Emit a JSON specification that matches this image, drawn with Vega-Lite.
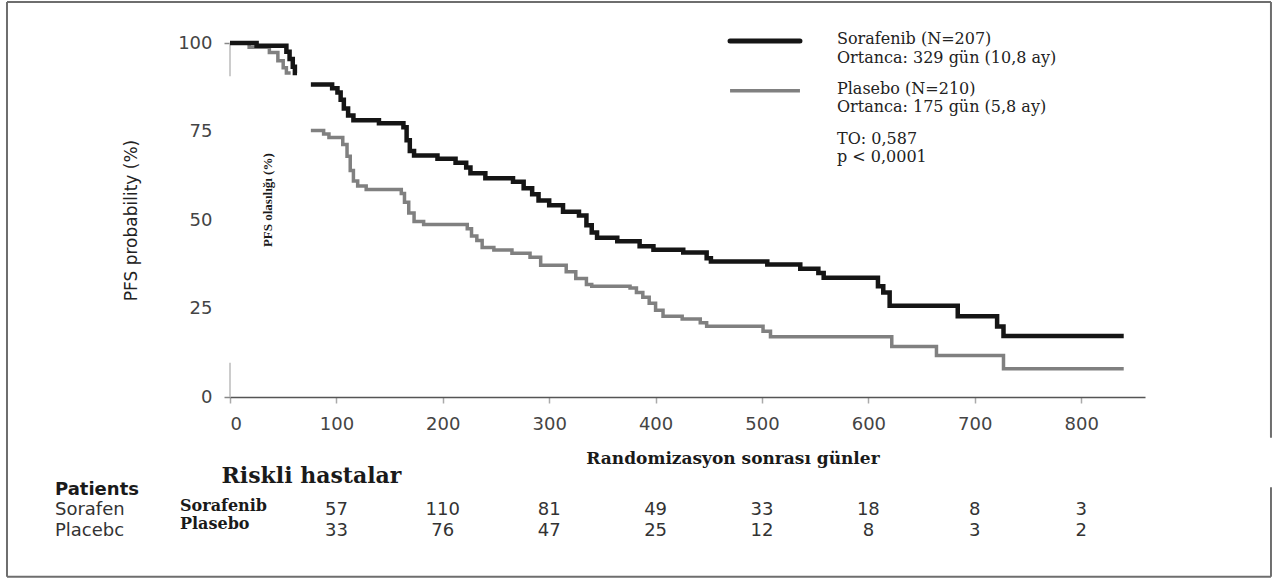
{
"$schema": "https://vega.github.io/schema/vega-lite/v6.json",
"width": 915,
"height": 354,
"autosize": {"type": "none"},
"padding": {"left": 230, "top": 43, "right": 134, "bottom": 184},
"background": "white",
"config": {"view": {"stroke": null}},
"datasets": {
"curves": [
{"arm":"Sorafenib","seg":"a","day":0,"pfs":100},
{"arm":"Sorafenib","seg":"a","day":25,"pfs":99.2},
{"arm":"Sorafenib","seg":"a","day":53,"pfs":97.5},
{"arm":"Sorafenib","seg":"a","day":56,"pfs":95.5},
{"arm":"Sorafenib","seg":"a","day":59,"pfs":93.3},
{"arm":"Sorafenib","seg":"a","day":61,"pfs":91.5},
{"arm":"Sorafenib","seg":"a","day":63,"pfs":91.5},
{"arm":"Sorafenib","seg":"b","day":76,"pfs":88.3},
{"arm":"Sorafenib","seg":"b","day":96,"pfs":87.2},
{"arm":"Sorafenib","seg":"b","day":101,"pfs":86.0},
{"arm":"Sorafenib","seg":"b","day":104,"pfs":84.0},
{"arm":"Sorafenib","seg":"b","day":107,"pfs":81.5},
{"arm":"Sorafenib","seg":"b","day":111,"pfs":79.5},
{"arm":"Sorafenib","seg":"b","day":116,"pfs":78.2},
{"arm":"Sorafenib","seg":"b","day":140,"pfs":77.3},
{"arm":"Sorafenib","seg":"b","day":163,"pfs":76.2},
{"arm":"Sorafenib","seg":"b","day":166,"pfs":72.5},
{"arm":"Sorafenib","seg":"b","day":169,"pfs":69.5},
{"arm":"Sorafenib","seg":"b","day":173,"pfs":68.2},
{"arm":"Sorafenib","seg":"b","day":195,"pfs":67.3},
{"arm":"Sorafenib","seg":"b","day":212,"pfs":66.2},
{"arm":"Sorafenib","seg":"b","day":222,"pfs":64.8},
{"arm":"Sorafenib","seg":"b","day":226,"pfs":63.2},
{"arm":"Sorafenib","seg":"b","day":240,"pfs":61.8},
{"arm":"Sorafenib","seg":"b","day":266,"pfs":60.8},
{"arm":"Sorafenib","seg":"b","day":276,"pfs":59.0},
{"arm":"Sorafenib","seg":"b","day":284,"pfs":57.3},
{"arm":"Sorafenib","seg":"b","day":290,"pfs":55.5},
{"arm":"Sorafenib","seg":"b","day":300,"pfs":54.2},
{"arm":"Sorafenib","seg":"b","day":313,"pfs":52.3},
{"arm":"Sorafenib","seg":"b","day":328,"pfs":51.3},
{"arm":"Sorafenib","seg":"b","day":335,"pfs":48.5},
{"arm":"Sorafenib","seg":"b","day":340,"pfs":46.5},
{"arm":"Sorafenib","seg":"b","day":345,"pfs":45.0},
{"arm":"Sorafenib","seg":"b","day":364,"pfs":44.0},
{"arm":"Sorafenib","seg":"b","day":385,"pfs":42.6},
{"arm":"Sorafenib","seg":"b","day":398,"pfs":41.6},
{"arm":"Sorafenib","seg":"b","day":426,"pfs":40.8},
{"arm":"Sorafenib","seg":"b","day":448,"pfs":39.2},
{"arm":"Sorafenib","seg":"b","day":452,"pfs":38.3},
{"arm":"Sorafenib","seg":"b","day":505,"pfs":37.4},
{"arm":"Sorafenib","seg":"b","day":536,"pfs":36.2},
{"arm":"Sorafenib","seg":"b","day":553,"pfs":35.0},
{"arm":"Sorafenib","seg":"b","day":558,"pfs":33.7},
{"arm":"Sorafenib","seg":"b","day":609,"pfs":31.3},
{"arm":"Sorafenib","seg":"b","day":614,"pfs":29.5},
{"arm":"Sorafenib","seg":"b","day":620,"pfs":25.8},
{"arm":"Sorafenib","seg":"b","day":684,"pfs":22.8},
{"arm":"Sorafenib","seg":"b","day":721,"pfs":19.9},
{"arm":"Sorafenib","seg":"b","day":727,"pfs":17.2},
{"arm":"Sorafenib","seg":"b","day":840,"pfs":17.2},
{"arm":"Placebo","seg":"a","day":0,"pfs":100},
{"arm":"Placebo","seg":"a","day":18,"pfs":98.8},
{"arm":"Placebo","seg":"a","day":37,"pfs":97.3},
{"arm":"Placebo","seg":"a","day":45,"pfs":95.0},
{"arm":"Placebo","seg":"a","day":50,"pfs":93.0},
{"arm":"Placebo","seg":"a","day":53,"pfs":91.5},
{"arm":"Placebo","seg":"a","day":57,"pfs":91.5},
{"arm":"Placebo","seg":"b","day":76,"pfs":75.3},
{"arm":"Placebo","seg":"b","day":88,"pfs":74.3},
{"arm":"Placebo","seg":"b","day":93,"pfs":73.3},
{"arm":"Placebo","seg":"b","day":106,"pfs":71.3},
{"arm":"Placebo","seg":"b","day":110,"pfs":68.0},
{"arm":"Placebo","seg":"b","day":113,"pfs":64.0},
{"arm":"Placebo","seg":"b","day":116,"pfs":61.0},
{"arm":"Placebo","seg":"b","day":120,"pfs":59.6},
{"arm":"Placebo","seg":"b","day":128,"pfs":58.6},
{"arm":"Placebo","seg":"b","day":161,"pfs":57.5},
{"arm":"Placebo","seg":"b","day":164,"pfs":55.0},
{"arm":"Placebo","seg":"b","day":168,"pfs":52.0},
{"arm":"Placebo","seg":"b","day":173,"pfs":49.6},
{"arm":"Placebo","seg":"b","day":182,"pfs":48.7},
{"arm":"Placebo","seg":"b","day":223,"pfs":47.5},
{"arm":"Placebo","seg":"b","day":227,"pfs":45.5},
{"arm":"Placebo","seg":"b","day":232,"pfs":44.2},
{"arm":"Placebo","seg":"b","day":237,"pfs":42.2},
{"arm":"Placebo","seg":"b","day":248,"pfs":41.5},
{"arm":"Placebo","seg":"b","day":265,"pfs":40.6},
{"arm":"Placebo","seg":"b","day":282,"pfs":39.5},
{"arm":"Placebo","seg":"b","day":292,"pfs":37.2},
{"arm":"Placebo","seg":"b","day":316,"pfs":35.4},
{"arm":"Placebo","seg":"b","day":325,"pfs":33.5},
{"arm":"Placebo","seg":"b","day":335,"pfs":31.8},
{"arm":"Placebo","seg":"b","day":340,"pfs":31.3},
{"arm":"Placebo","seg":"b","day":376,"pfs":30.8},
{"arm":"Placebo","seg":"b","day":382,"pfs":29.5},
{"arm":"Placebo","seg":"b","day":388,"pfs":28.2},
{"arm":"Placebo","seg":"b","day":394,"pfs":26.5},
{"arm":"Placebo","seg":"b","day":400,"pfs":24.5},
{"arm":"Placebo","seg":"b","day":407,"pfs":22.8},
{"arm":"Placebo","seg":"b","day":425,"pfs":22.0},
{"arm":"Placebo","seg":"b","day":442,"pfs":21.0},
{"arm":"Placebo","seg":"b","day":448,"pfs":20.0},
{"arm":"Placebo","seg":"b","day":501,"pfs":18.6},
{"arm":"Placebo","seg":"b","day":508,"pfs":17.0},
{"arm":"Placebo","seg":"b","day":622,"pfs":14.3},
{"arm":"Placebo","seg":"b","day":664,"pfs":11.7},
{"arm":"Placebo","seg":"b","day":727,"pfs":8.0},
{"arm":"Placebo","seg":"b","day":840,"pfs":8.0}
],
"risk": [
{"arm":"Sorafenib","day":100,"n":57},
{"arm":"Sorafenib","day":200,"n":110},
{"arm":"Sorafenib","day":300,"n":81},
{"arm":"Sorafenib","day":400,"n":49},
{"arm":"Sorafenib","day":500,"n":33},
{"arm":"Sorafenib","day":600,"n":18},
{"arm":"Sorafenib","day":700,"n":8},
{"arm":"Sorafenib","day":800,"n":3},
{"arm":"Placebo","day":100,"n":33},
{"arm":"Placebo","day":200,"n":76},
{"arm":"Placebo","day":300,"n":47},
{"arm":"Placebo","day":400,"n":25},
{"arm":"Placebo","day":500,"n":12},
{"arm":"Placebo","day":600,"n":8},
{"arm":"Placebo","day":700,"n":3},
{"arm":"Placebo","day":800,"n":2}
]
},
"layer": [
{"data": {"values": [{}]}, "mark": {"type": "rule", "color": "#6e6e6e", "strokeWidth": 2}, "encoding": {"x": {"datum": -209.6}, "x2": {"datum": 978.4}, "y": {"datum": 111.6}}},
{"data": {"values": [{}]}, "mark": {"type": "rule", "color": "#6e6e6e", "strokeWidth": 2}, "encoding": {"x": {"datum": -209.6}, "x2": {"datum": 978.4}, "y": {"datum": -50.8}}},
{"data": {"values": [{}]}, "mark": {"type": "rule", "color": "#6e6e6e", "strokeWidth": 2}, "encoding": {"x": {"datum": -209.6}, "y": {"datum": 111.6}, "y2": {"datum": -50.8}}},
{"data": {"values": [{}]}, "mark": {"type": "rule", "color": "#6e6e6e", "strokeWidth": 2}, "encoding": {"x": {"datum": 978.4}, "y": {"datum": 111.6}, "y2": {"datum": -11.5}}},
{"data": {"values": [{}]}, "mark": {"type": "rule", "color": "#6e6e6e", "strokeWidth": 2}, "encoding": {"x": {"datum": 978.4}, "y": {"datum": -25.5}, "y2": {"datum": -50.8}}},
{"data": {"values": [{}]}, "mark": {"type": "rule", "color": "#bbbbbb", "strokeWidth": 1.5}, "encoding": {"x": {"datum": 0}, "y": {"datum": 90.6}, "y2": {"datum": 100}}},
{"data": {"values": [{}]}, "mark": {"type": "rule", "color": "#bbbbbb", "strokeWidth": 1.5}, "encoding": {"x": {"datum": 0}, "y": {"datum": 0}, "y2": {"datum": 9.7}}},
{
"data": {"name": "curves"},
"transform": [{"filter": "datum.arm === 'Placebo'"}],
"mark": {"type": "line", "interpolate": "step-after", "color": "#808080", "strokeWidth": 3.5},
"encoding": {
"x": {"field": "day", "type": "quantitative", "scale": {"domain": [0, 860], "nice": false},
"axis": {"values": [0,100,200,300,400,500,600,700,800], "title": null, "grid": false, "domainColor": "#555555", "domainWidth": 1.5, "tickColor": "#aaaaaa", "tickWidth": 1.5, "tickSize": 6, "labelPadding": 12, "labelFont": "DejaVu Sans", "labelFontSize": 18, "labelColor": "#444444"}},
"y": {"field": "pfs", "type": "quantitative", "scale": {"domain": [0, 100], "nice": false},
"axis": {"values": [0,25,50,75,100], "title": "PFS probability (%)", "grid": false, "domain": false, "tickColor": {"condition": {"test": "datum.value == 0 || datum.value == 100", "value": "#888888"}, "value": "transparent"}, "tickWidth": 1.5, "tickSize": 6, "labelPadding": 12, "labelFont": "DejaVu Sans", "labelFontSize": 18, "labelColor": "#444444", "titleFont": "DejaVu Sans", "titleFontSize": 17, "titleFontWeight": "normal", "titleColor": "#222222", "titlePadding": 37}},
"detail": {"field": "seg"}
}
},
{
"data": {"name": "curves"},
"transform": [{"filter": "datum.arm === 'Sorafenib'"}],
"mark": {"type": "line", "interpolate": "step-after", "color": "#151515", "strokeWidth": 4.5},
"encoding": {
"x": {"field": "day", "type": "quantitative"},
"y": {"field": "pfs", "type": "quantitative"},
"detail": {"field": "seg"}
}
},
{"data": {"values": [{}]}, "mark": {"type": "rule", "color": "#151515", "strokeWidth": 5, "strokeCap": "round"}, "encoding": {"x": {"datum": 470}, "x2": {"datum": 535.7}, "y": {"datum": 100.6}}},
{"data": {"values": [{}]}, "mark": {"type": "rule", "color": "#808080", "strokeWidth": 3.5}, "encoding": {"x": {"datum": 470}, "x2": {"datum": 535.7}, "y": {"datum": 86.5}}},
{"data": {"values": [{}]}, "mark": {"type": "text", "font": "DejaVu Serif", "fontSize": 16, "color": "#222222", "align": "left", "baseline": "middle"}, "encoding": {"x": {"datum": 570.5}, "y": {"datum": 101.0}, "text": {"value": "Sorafenib (N=207)"}}},
{"data": {"values": [{}]}, "mark": {"type": "text", "font": "DejaVu Serif", "fontSize": 16, "color": "#222222", "align": "left", "baseline": "middle"}, "encoding": {"x": {"datum": 570.5}, "y": {"datum": 95.9}, "text": {"value": "Ortanca: 329 gün (10,8 ay)"}}},
{"data": {"values": [{}]}, "mark": {"type": "text", "font": "DejaVu Serif", "fontSize": 16, "color": "#222222", "align": "left", "baseline": "middle"}, "encoding": {"x": {"datum": 570.5}, "y": {"datum": 86.9}, "text": {"value": "Plasebo (N=210)"}}},
{"data": {"values": [{}]}, "mark": {"type": "text", "font": "DejaVu Serif", "fontSize": 16, "color": "#222222", "align": "left", "baseline": "middle"}, "encoding": {"x": {"datum": 570.5}, "y": {"datum": 81.8}, "text": {"value": "Ortanca: 175 gün (5,8 ay)"}}},
{"data": {"values": [{}]}, "mark": {"type": "text", "font": "DejaVu Serif", "fontSize": 16, "color": "#222222", "align": "left", "baseline": "middle"}, "encoding": {"x": {"datum": 570.5}, "y": {"datum": 73.0}, "text": {"value": "TO: 0,587"}}},
{"data": {"values": [{}]}, "mark": {"type": "text", "font": "DejaVu Serif", "fontSize": 16, "color": "#222222", "align": "left", "baseline": "middle"}, "encoding": {"x": {"datum": 570.5}, "y": {"datum": 67.8}, "text": {"value": "p < 0,0001"}}},
{"data": {"values": [{}]}, "mark": {"type": "text", "font": "Liberation Serif", "fontSize": 13, "fontWeight": "bold", "color": "#1a1a1a", "align": "center", "baseline": "middle", "angle": 270}, "encoding": {"x": {"datum": 35.7}, "y": {"datum": 55.6}, "text": {"value": "PFS olasılığı (%)"}}},
{"data": {"values": [{}]}, "mark": {"type": "text", "font": "DejaVu Serif", "fontSize": 17, "fontWeight": "bold", "color": "#1a1a1a", "align": "center", "baseline": "middle"}, "encoding": {"x": {"datum": 472.7}, "y": {"datum": -17.5}, "text": {"value": "Randomizasyon sonrası günler"}}},
{"data": {"values": [{}]}, "mark": {"type": "text", "font": "DejaVu Serif", "fontSize": 22, "fontWeight": "bold", "color": "#1a1a1a", "align": "center", "baseline": "middle"}, "encoding": {"x": {"datum": 76.6}, "y": {"datum": -22.2}, "text": {"value": "Riskli hastalar"}}},
{"data": {"values": [{}]}, "mark": {"type": "text", "font": "DejaVu Sans", "fontSize": 18, "fontWeight": "bold", "color": "#1a1a1a", "align": "left", "baseline": "middle"}, "encoding": {"x": {"datum": -164.5}, "y": {"datum": -26.2}, "text": {"value": "Patients"}}},
{"data": {"values": [{}]}, "mark": {"type": "text", "font": "DejaVu Sans", "fontSize": 18, "color": "#333333", "align": "left", "baseline": "middle"}, "encoding": {"x": {"datum": -164.5}, "y": {"datum": -31.9}, "text": {"value": "Sorafen"}}},
{"data": {"values": [{}]}, "mark": {"type": "text", "font": "DejaVu Sans", "fontSize": 18, "color": "#333333", "align": "left", "baseline": "middle"}, "encoding": {"x": {"datum": -164.5}, "y": {"datum": -37.9}, "text": {"value": "Placebc"}}},
{"data": {"values": [{}]}, "mark": {"type": "text", "font": "DejaVu Serif", "fontSize": 16, "fontWeight": "bold", "color": "#1a1a1a", "align": "left", "baseline": "middle"}, "encoding": {"x": {"datum": -47}, "y": {"datum": -30.8}, "text": {"value": "Sorafenib"}}},
{"data": {"values": [{}]}, "mark": {"type": "text", "font": "DejaVu Serif", "fontSize": 16, "fontWeight": "bold", "color": "#1a1a1a", "align": "left", "baseline": "middle"}, "encoding": {"x": {"datum": -47}, "y": {"datum": -35.9}, "text": {"value": "Plasebo"}}},
{"data": {"name": "risk"}, "transform": [{"filter": "datum.arm === 'Sorafenib'"}], "mark": {"type": "text", "font": "DejaVu Sans", "fontSize": 18, "color": "#333333", "align": "center", "baseline": "middle"}, "encoding": {"x": {"field": "day", "type": "quantitative"}, "y": {"datum": -31.9}, "text": {"field": "n", "type": "quantitative"}}},
{"data": {"name": "risk"}, "transform": [{"filter": "datum.arm === 'Placebo'"}], "mark": {"type": "text", "font": "DejaVu Sans", "fontSize": 18, "color": "#333333", "align": "center", "baseline": "middle"}, "encoding": {"x": {"field": "day", "type": "quantitative"}, "y": {"datum": -37.9}, "text": {"field": "n", "type": "quantitative"}}}
]
}
